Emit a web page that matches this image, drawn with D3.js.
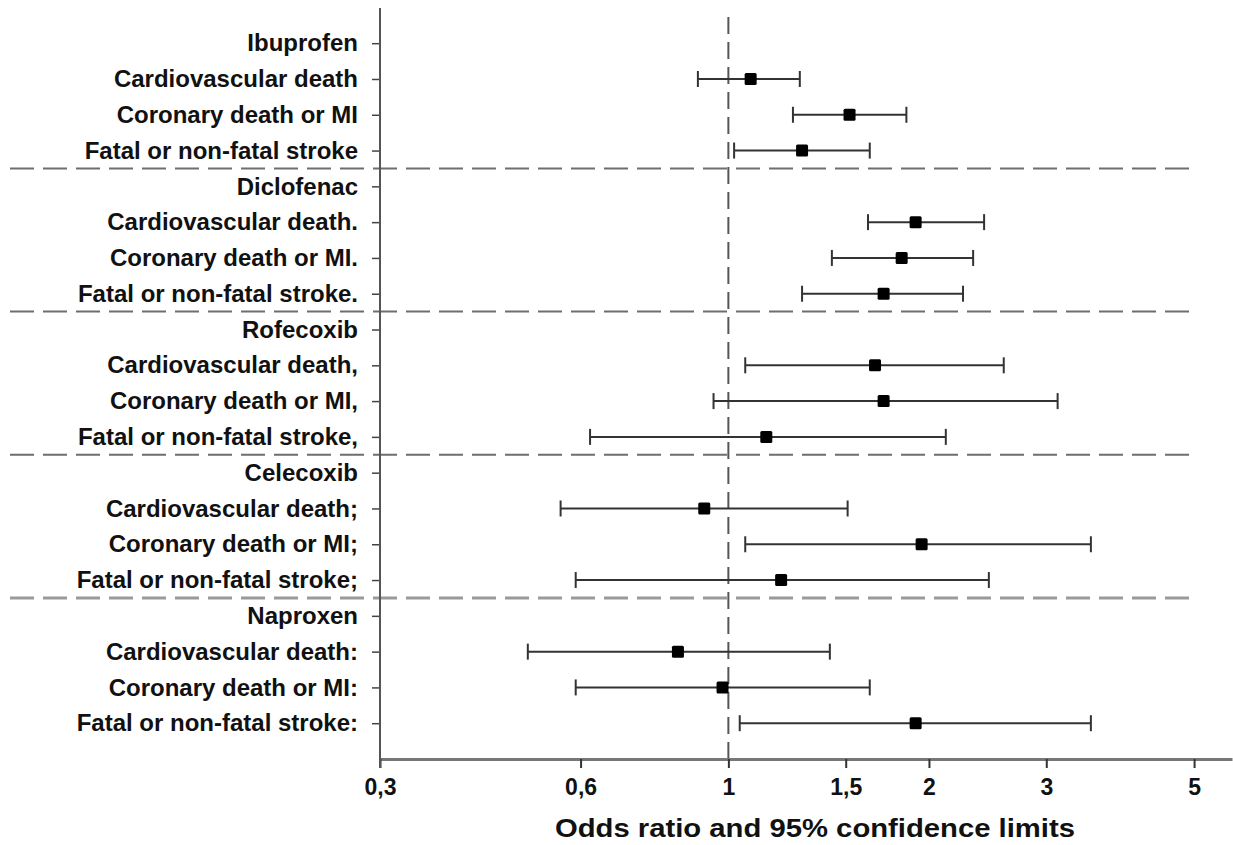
<!DOCTYPE html>
<html>
<head>
<meta charset="utf-8">
<script src="https://cdn.jsdelivr.net/npm/d3@7"></script>
<style>
  body { margin: 0; background: #fff; }
  svg text { font-family: "Liberation Sans", Arial, sans-serif; font-weight: bold; fill: #111; }
</style>
</head>
<body>
<div id="chart"></div>
<script>
// Rows of the forest plot (group headers have no estimate)
var rowLabels = [
  "Ibuprofen", "Cardiovascular death", "Coronary death or MI", "Fatal or non-fatal stroke",
  "Diclofenac", "Cardiovascular death.", "Coronary death or MI.", "Fatal or non-fatal stroke.",
  "Rofecoxib", "Cardiovascular death,", "Coronary death or MI,", "Fatal or non-fatal stroke,",
  "Celecoxib", "Cardiovascular death;", "Coronary death or MI;", "Fatal or non-fatal stroke;",
  "Naproxen", "Cardiovascular death:", "Coronary death or MI:", "Fatal or non-fatal stroke:"
];
var oddsRatio = [null, 1.08, 1.52, 1.29, null, 1.91, 1.82, 1.71, null, 1.66, 1.71, 1.14, null, 0.92, 1.95, 1.20, null, 0.84, 0.98, 1.91];
var lowerCI   = [null, 0.90, 1.25, 1.02, null, 1.62, 1.43, 1.29, null, 1.06, 0.95, 0.62, null, 0.56, 1.06, 0.59, null, 0.50, 0.59, 1.04];
var upperCI   = [null, 1.28, 1.85, 1.63, null, 2.42, 2.33, 2.25, null, 2.59, 3.12, 2.12, null, 1.51, 3.50, 2.46, null, 1.42, 1.63, 3.50];
var xTicks = [0.3, 0.6, 1, 1.5, 2, 3, 5];
var groupBreaks = [3.5, 7.5, 11.5, 15.5];

var svgWidth = 1233;
var svgHeight = 845;

var svg = d3.select("#chart")
  .append("svg")
  .attr("width", svgWidth)
  .attr("height", svgHeight);

var x = d3.scaleLog()
  .domain([0.3, 5.7])
  .range([380, 1232]);

var y = d3.scaleLinear()
  .domain([-1, 20])
  .range([7.4, 759]);

var rows = rowLabels.map(function(label, i) {
  return { label: label, i: i, or: oddsRatio[i], lo: lowerCI[i], hi: upperCI[i] };
});

// group separators
svg.append("g")
  .selectAll("line")
  .data(groupBreaks)
  .enter()
  .append("line")
  .attr("x1", 10)
  .attr("x2", 1190)
  .attr("y1", d => y(d))
  .attr("y2", d => y(d))
  .attr("stroke", (d, i) => i === 3 ? "#9a9a9a" : "#6e6e6e")
  .attr("stroke-width", (d, i) => i === 3 ? 3 : 2)
  .attr("stroke-dasharray", "24,9");

// reference line at OR = 1
svg.append("line")
  .attr("x1", x(1))
  .attr("x2", x(1))
  .attr("y1", 17)
  .attr("y2", y(20))
  .attr("stroke", "#555")
  .attr("stroke-width", 2)
  .attr("stroke-dasharray", "17,8");

// x axis
var bottomAxis = d3.axisBottom(x)
  .tickValues(xTicks)
  .tickFormat(d => String(d).replace(".", ","))
  .tickSize(9)
  .tickSizeOuter(0)
  .tickPadding(11);

var xAxis = svg.append("g")
  .attr("transform", `translate(0, ${y(20)})`)
  .call(bottomAxis);
xAxis.select(".domain").attr("stroke", "#777").attr("stroke-width", 3);
xAxis.selectAll(".tick line").attr("stroke", "#333").attr("stroke-width", 2);
xAxis.selectAll("text").style("font-size", "23px");

// y axis
var leftAxis = d3.axisLeft(y)
  .tickValues(d3.range(20))
  .tickFormat(i => rowLabels[i])
  .tickSize(8)
  .tickSizeOuter(0)
  .tickPadding(14);

var yAxis = svg.append("g")
  .attr("transform", "translate(380, 0)")
  .call(leftAxis);
yAxis.select(".domain").remove();
yAxis.append("line")
  .attr("x1", 0).attr("x2", 0)
  .attr("y1", 8).attr("y2", 768)
  .attr("stroke", "#555").attr("stroke-width", 2);
yAxis.selectAll(".tick line").attr("stroke", "#444").attr("stroke-width", 1.5);
yAxis.selectAll("text").style("font-size", "24px");

// error bars and point estimates
var est = rows.filter(d => d.or !== null);

var bars = svg.append("g")
  .selectAll(".bar")
  .data(est)
  .enter()
  .append("g")
  .classed("bar", true)
  .attr("transform", d => `translate(0, ${y(d.i)})`);

bars.append("line")
  .attr("x1", d => x(d.lo))
  .attr("x2", d => x(d.hi))
  .attr("stroke", "#333")
  .attr("stroke-width", 2);

bars.append("line")
  .attr("x1", d => x(d.lo)).attr("x2", d => x(d.lo))
  .attr("y1", -8).attr("y2", 8)
  .attr("stroke", "#333").attr("stroke-width", 2);

bars.append("line")
  .attr("x1", d => x(d.hi)).attr("x2", d => x(d.hi))
  .attr("y1", -8).attr("y2", 8)
  .attr("stroke", "#333").attr("stroke-width", 2);

bars.append("rect")
  .attr("x", d => x(d.or) - 6)
  .attr("y", -6)
  .attr("width", 12)
  .attr("height", 12)
  .attr("rx", 1.5)
  .attr("fill", "#000");

// x axis title
svg.append("text")
  .attr("x", 815)
  .attr("y", 837)
  .attr("text-anchor", "middle")
  .attr("textLength", 520)
  .attr("lengthAdjust", "spacingAndGlyphs")
  .style("font-size", "26px")
  .text("Odds ratio and 95% confidence limits");
</script>
</body>
</html>
